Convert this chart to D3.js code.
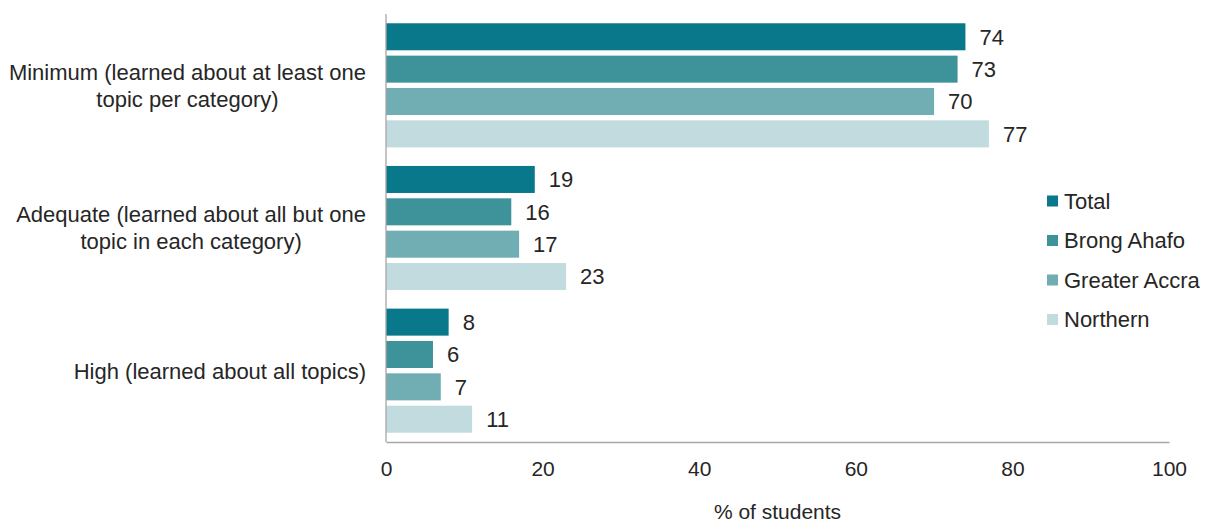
<!DOCTYPE html>
<html><head><meta charset="utf-8">
<script src="https://cdn.jsdelivr.net/npm/d3@7"></script>
<style>body{margin:0;background:#fff;} svg{display:block;font-family:"Liberation Sans",Arial,sans-serif;}</style>
</head><body>
<script>
const categories = [
  ["Minimum (learned about at least one", "topic per category)"],
  ["Adequate (learned about all but one", "topic in each category)"],
  ["High (learned about all topics)"]
];
const seriesNames = ["Total", "Brong Ahafo", "Greater Accra", "Northern"];
const seriesColors = ["#08788A", "#3E939B", "#70AEB4", "#C1DBDF"];
const values = [
  [74, 73, 70, 77],
  [19, 16, 17, 23],
  [8, 6, 7, 11]
];
const xTicks = [0, 20, 40, 60, 80, 100];
const xTitle = "% of students";

const W = 1207, H = 525;
const svg = d3.select("body").append("svg").attr("width", W).attr("height", H);
const plotL = 386, plotR = 1169, plotT = 14, plotB = 442;
const x = d3.scaleLinear().domain([0, 100]).range([plotL, plotR]);
const y0 = d3.scaleBand().domain(d3.range(categories.length)).range([plotT, plotB]).paddingInner(0.13).paddingOuter(0.065);
const y1 = d3.scaleBand().domain(d3.range(seriesNames.length)).range([0, y0.bandwidth()]).paddingInner(0.165);
const textColor = "#262626";
const fs = 22;
const labelRight = 366;

const g = svg.append("g");
values.forEach((row, ci) => {
  row.forEach((v, si) => {
    const yy = y0(ci) + y1(si);
    g.append("rect").attr("x", x(0)).attr("y", yy).attr("width", x(v) - x(0)).attr("height", y1.bandwidth()).attr("fill", seriesColors[si]);
    g.append("text").attr("x", x(v) + 14).attr("y", yy + y1.bandwidth() / 2).attr("dy", "0.36em")
      .attr("font-size", fs).attr("fill", textColor).text(v);
  });
  const lines = categories[ci];
  const cy = y0(ci) + y0.bandwidth() / 2;
  const lh = 27;
  const t = svg.append("text").attr("text-anchor", "middle").attr("font-size", fs).attr("fill", textColor);
  const spans = lines.map((ln, li) =>
    t.append("tspan").attr("y", cy + (li - (lines.length - 1) / 2) * lh).attr("dy", "0.36em").text(ln));
  const maxW = d3.max(spans, s => s.node().getComputedTextLength());
  spans.forEach(s => s.attr("x", labelRight - maxW / 2));
});

svg.append("line").attr("x1", plotL).attr("x2", plotL).attr("y1", plotT).attr("y2", plotB).attr("stroke", "#A6A6A6").attr("stroke-width", 1.3);
const xAxis = d3.axisBottom(x).tickValues(xTicks).tickSize(0).tickPadding(19).tickFormat(d3.format("d"));
const ax = svg.append("g").attr("transform", `translate(0,${plotB})`).call(xAxis);
ax.select(".domain").attr("stroke", "#A6A6A6").attr("stroke-width", 1.3);
ax.selectAll("text").attr("font-size", 21).attr("fill", textColor).attr("font-family", "Liberation Sans, Arial, sans-serif");

svg.append("text").attr("x", x(50)).attr("y", 519).attr("text-anchor", "middle").attr("font-size", 21).attr("fill", textColor).text(xTitle);

const lg = svg.append("g");
seriesNames.forEach((n, i) => {
  const cy = 201 + i * 39.5;
  lg.append("rect").attr("x", 1047).attr("y", cy - 5.5).attr("width", 11).attr("height", 11).attr("fill", seriesColors[i]);
  lg.append("text").attr("x", 1064).attr("y", cy).attr("dy", "0.36em").attr("font-size", fs).attr("fill", textColor).text(n);
});
</script>
</body></html>
